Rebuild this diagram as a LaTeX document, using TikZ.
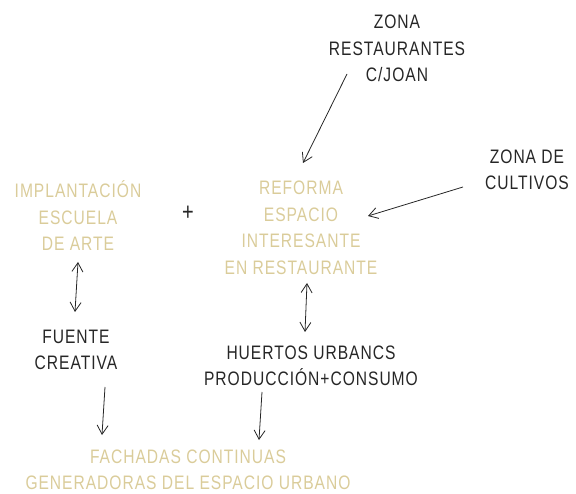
\documentclass[tikz,border=0pt]{standalone}
\usepackage{fontspec}
\usepackage{tikz}
\usetikzlibrary{arrows.meta}
\setmainfont{Liberation Sans}[FakeStretch=0.8, LetterSpace=5]
\definecolor{gg}{RGB}{218, 204, 154}
\definecolor{kk}{RGB}{38, 38, 38}

\begin{document}
\begin{tikzpicture}[
every node/.style={inner sep=0pt, align=center, font=\fontsize{19.5pt}{26.5pt}\selectfont},
gold/.style={text=gg},
dark/.style={text=kk},
arr/.style={line width=0.8pt, color=kk, -{Straight Barb[length=9pt, width=11pt, line width=0.8pt]}},
darr/.style={line width=0.8pt, color=kk, {Straight Barb[length=9pt, width=11pt, line width=0.8pt]}-{Straight Barb[length=9pt, width=11pt, line width=0.8pt]}}]
\useasboundingbox (0pt, 0pt) rectangle (576pt, -494pt);
\node (zr) [dark] at (397pt, -48.5pt) {ZONA\\RESTAURANTES\\C/JOAN};
\node (zc) [dark] at (527pt, -170pt) {ZONA DE\\CULTIVOS};
\node (impl) [gold] at (78pt, -216pt) {IMPLANTACIÓN\\ESCUELA\\DE ARTE};
\node (plus) [dark, font=\fontsize{25pt}{26.5pt}\selectfont] at (188pt, -213pt) {+};
\node (ref) [gold] at (301pt, -228pt) {REFORMA\\ESPACIO\\INTERESANTE\\EN RESTAURANTE};
\node (fc) [dark] at (76pt, -350pt) {FUENTE\\CREATIVA};
\node (hu) [dark] at (311pt, -366pt) {HUERTOS URBANCS\\PRODUCCIÓN+CONSUMO};
\node (fach) [gold] at (188pt, -470pt) {FACHADAS CONTINUAS\\GENERADORAS DEL ESPACIO URBANO};
\draw [arr] ([xshift=-50pt, yshift=-25.5pt]zr.center) to ([xshift=2pt, yshift=65pt]ref.center);
\draw [arr] ([xshift=-64pt, yshift=-17pt]zc.center) to ([xshift=67pt, yshift=12pt]ref.center);
\draw [darr] ([yshift=-46pt]impl.center) to ([xshift=-1pt, yshift=38pt]fc.center);
\draw [darr] ([xshift=6pt, yshift=-55pt]ref.center) to ([xshift=-6pt, yshift=34pt]hu.center);
\draw [arr] ([xshift=29pt, yshift=-37pt]fc.center) to ([xshift=-86pt, yshift=35pt]fach.center);
\draw [arr] ([xshift=-49pt, yshift=-26pt]hu.center) to ([xshift=71pt, yshift=30pt]fach.center);
\end{tikzpicture}
\end{document}
